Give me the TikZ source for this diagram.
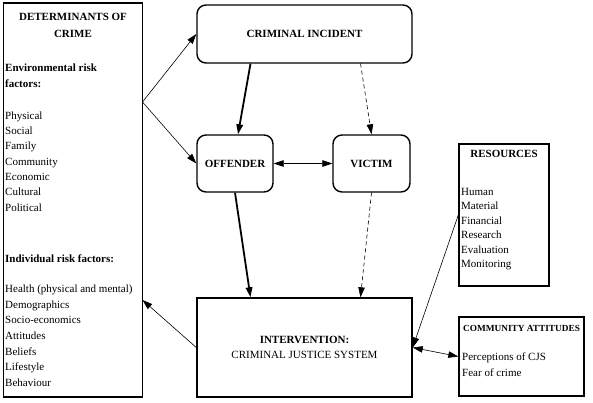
\documentclass[tikz,border=0pt]{standalone}
\usepackage{fontspec}
\setmainfont{Liberation Serif}
\usetikzlibrary{positioning, arrows.meta}

\tikzset{
  box/.style={draw, line width=1.4pt, inner sep=0pt},
  rbox/.style={box, rounded corners=9pt},
  txt/.style={inner sep=0pt, font=\fontsize{11}{15.5}\selectfont},
  head/.style={inner sep=0pt, font=\fontsize{11}{15.5}\selectfont\bfseries},
  thin/.style={->, line width=0.6pt},
  heavy/.style={->, line width=1.8pt},
  dashline/.style={->, line width=0.6pt, dash pattern=on 4pt off 3pt},
}

\begin{document}
\begin{tikzpicture}[x=1pt, y=-1pt, >={Triangle[length=10pt, width=6.5pt]}]
\useasboundingbox (0,0) rectangle (593,403);

\node[box, minimum width=139pt, minimum height=394pt] (det) at (73,200) {};
\node[rbox, head, minimum width=215pt, minimum height=58pt] (incident) at (304.5,34) {CRIMINAL INCIDENT};
\node[rbox, head, minimum width=76pt, minimum height=57pt] (offender) at (235,163.5) {OFFENDER};
\node[rbox, head, minimum width=77pt, minimum height=57pt] (victim) at (371.5,163.5) {VICTIM};
\node[box, txt, align=center, minimum width=215pt, minimum height=99pt] (intervention) at (304.5,347.5)
  {\textbf{INTERVENTION:}\\CRIMINAL JUSTICE SYSTEM};
\node[box, minimum width=90pt, minimum height=142pt] (resources) at (504,215) {};
\node[box, minimum width=125pt, minimum height=79pt] (community) at (521.5,356.5) {};

\node[head, align=center, anchor=north] (dettitle) at (73,13.5) {DETERMINANTS OF\\[1.5pt]CRIME};
\node[head, align=left, anchor=north west] (envhead) at (5,64) {Environmental risk\\factors:};
\node[txt, font=\fontsize{11}{15.3}\selectfont, align=left, anchor=north west] (envlist) at (5,111.5)
  {Physical\\Social\\Family\\Community\\Economic\\Cultural\\Political};
\node[head, align=left, anchor=north west] (indhead) at (5,255) {Individual risk factors:};
\node[txt, font=\fontsize{11}{15.7}\selectfont, align=left, anchor=north west] (indlist) at (5,284.5)
  {Health (physical and mental)\\Demographics\\Socio-economics\\Attitudes\\Beliefs\\Lifestyle\\Behaviour};

\node[head, anchor=north] (restitle) at (504,150.5) {RESOURCES};
\node[txt, font=\fontsize{11}{14.5}\selectfont, align=left, anchor=north west] (reslist) at (461,188)
  {Human\\Material\\Financial\\Research\\Evaluation\\Monitoring};

\node[head, font=\fontsize{9.3}{12}\selectfont\bfseries, anchor=north] (comtitle) at (521.5,325) {COMMUNITY ATTITUDES};
\node[txt, font=\fontsize{11}{16}\selectfont, align=left, anchor=north west] (comlist) at (462,353)
  {Perceptions of CJS\\Fear of crime};

\coordinate (detout) at (142.5,102);
\coordinate (detin) at (142.5,300);

\draw[thin] (detout) -- (incident.west);
\draw[thin] (detout) -- (offender.west);
\draw[heavy] ([xshift=-54pt]incident.south) -- ([xshift=3pt]offender.north);
\draw[dashline] ([xshift=56pt]incident.south) -- (victim.north);
\draw[thin, <->] (offender) -- (victim);
\draw[heavy] (offender.south) -- ([xshift=-54pt]intervention.north);
\draw[dashline] (victim.south) -- ([xshift=56pt]intervention.north);
\draw[thin] (intervention.west) -- (detin);
\draw[thin] (resources.west) -- (intervention.east);
\draw[thin, <->] (intervention.east) -- (community.west);
\end{tikzpicture}
\end{document}
